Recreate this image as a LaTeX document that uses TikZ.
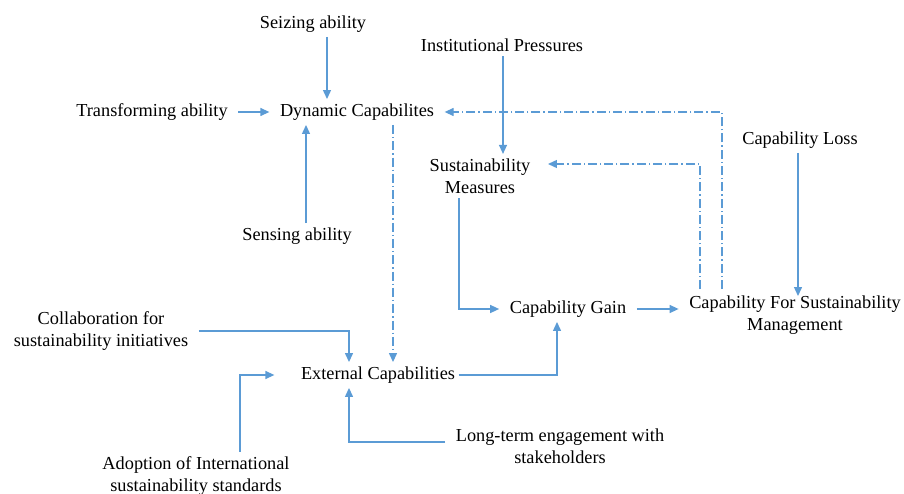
\documentclass[tikz,border=0pt]{standalone}
\usepackage{fontspec}
\setmainfont{Liberation Serif}
\usepackage{xcolor}
\usepackage{tikz}
\usetikzlibrary{arrows.meta}

\definecolor{linkblue}{HTML}{5B9BD5}

\begin{document}
\begin{tikzpicture}[->,>={Triangle[length=9pt,width=8pt]},x=1pt,y=-1pt,line width=1.3pt,draw=linkblue]
                \tikzset{every node/.style={font=\fontsize{18.3}{22}\selectfont, inner xsep=10pt, inner ysep=4pt, align=center}}
                \tikzset{feedback/.style={dash pattern=on 9pt off 3pt on 1.3pt off 3pt}}

                \useasboundingbox (0,0) rectangle (904,494);

                \node (seize) at (313,24) {Seizing ability};
                \node (inst) at (502,45) {Institutional Pressures};
                \node (trans) at (152,112) {Transforming ability};
                \node (dyn) at (357,112) {Dynamic Capabilites};
                \node (loss) at (800,140) {Capability Loss};
                \node (meas) at (480,176) {Sustainability\\Measures};
                \node (sense) at (297,236) {Sensing ability};
                \node (gain) at (568,309) {Capability Gain};
                \node (cfsm) at (795,315) {Capability For Sustainability\\Management};
                \node (collab) at (101,331) {Collaboration for\\sustainability initiatives};
                \node (ext) at (378,375) {External Capabilities};
                \node (long) at (560,446) {Long-term engagement with\\stakeholders};
                \node (adopt) at (196,476) {Adoption of International\\sustainability standards};

                \draw ([xshift=14pt]seize.south) -- ([xshift=-30pt]dyn.north);
                \draw (trans) -- (dyn);
                \draw ([xshift=9pt]sense.north) -- ([xshift=-51pt]dyn.south);
                \draw[feedback] ([xshift=36pt]dyn.south) -- ([xshift=15pt]ext.north);
                \draw ([xshift=1pt]inst.south) -- ([xshift=23pt]meas.north);
                \draw ([xshift=-21pt]meas.south) |- (gain.west);
                \draw (gain.east) -- (gain.east -| cfsm.west);
                \draw ([xshift=-2pt]loss.south) -- ([xshift=3pt,yshift=-5pt]cfsm.north);
                \draw[feedback] ([xshift=-73pt,yshift=2pt]cfsm.north) |- (dyn.east);
                \draw[feedback] ([xshift=-95pt,yshift=2pt]cfsm.north) |- ([xshift=7pt,yshift=12pt]meas.east);
                \draw ([xshift=-7pt]ext.east) -| ([xshift=-11pt]gain.south);
                \draw (collab.east) -| ([xshift=-29pt]ext.north);
                \draw ([xshift=44pt]adopt.north) |- ([xshift=-16pt]ext.west);
                \draw ([yshift=4pt]long.west) -| ([xshift=-29pt]ext.south);
            \end{tikzpicture}
\end{document}
